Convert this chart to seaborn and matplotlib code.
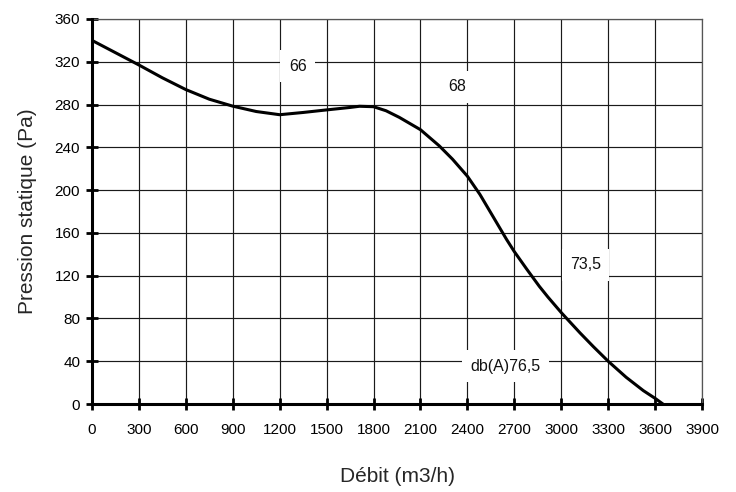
import matplotlib
matplotlib.use("Agg")
import matplotlib.pyplot as plt
import seaborn as sns
import pandas as pd

# Data
debit = [0, 150, 300, 450, 600, 750, 900, 1050, 1200, 1350, 1500, 1650, 1710, 1800,
         1880, 1965, 2100, 2220, 2305, 2400, 2480, 2565, 2650, 2700, 2780, 2860, 2915,
         3000, 3120, 3205, 3300, 3415, 3525, 3600, 3650]
pression = [340, 328.5, 317, 305, 294, 285, 278.5, 273.5, 270.5, 272.6, 275, 277.3, 278.4, 278,
            274.2, 268, 256.5, 241.4, 228.9, 213, 196, 175, 154, 142.5, 126, 110, 100,
            85.5, 66.5, 53.7, 40, 25, 12.5, 5.3, 0]

label_texts = ["66", "68", "73,5", "db(A)76,5"]
label_x = [1315, 2336, 3156, 2645]
label_y = [316, 296.5, 130, 35.5]

x_ticks = list(range(0, 3901, 300))
y_ticks = list(range(0, 361, 40))

sns.set_style("white")
plt.rcParams['font.family'] = ['Liberation Sans', 'DejaVu Sans']

fig = plt.figure(figsize=(7.36, 4.92), dpi=100)
ax = fig.add_axes([92/736, 1-404/492, 610/736, 385/492])

df = pd.DataFrame({"Débit": debit, "Pression": pression})

ax.set_xlim(0, 3900)
ax.set_ylim(0, 360)
ax.set_xticks(x_ticks)
ax.set_yticks(y_ticks)
ax.grid(True, color="#1a1a1a", linewidth=0.85)
ax.set_axisbelow(True)

for t, x, y in zip(label_texts, label_x, label_y):
    ax.text(x, y, t, ha="center", va="center", fontsize=11.5, color="#111111",
            bbox=dict(facecolor="white", edgecolor="none", pad=6), zorder=3)

sns.lineplot(data=df, x="Débit", y="Pression", ax=ax, color="black",
             linewidth=2.2, sort=False, estimator=None, zorder=4)

for s in ["left", "bottom"]:
    ax.spines[s].set_linewidth(2.2)
    ax.spines[s].set_color("black")
    ax.spines[s].set_zorder(5)
for s in ["top", "right"]:
    ax.spines[s].set_linewidth(0.9)
    ax.spines[s].set_color("#555555")

ax.tick_params(axis="both", direction="inout", width=2, colors="black",
               labelsize=11, length=9)
ax.tick_params(axis="y", pad=4)
ax.tick_params(axis="x", pad=9)
ax.tick_params(left=True, bottom=True)

ax.set_xlabel("Débit (m3/h)", fontsize=15, labelpad=22)
ax.set_ylabel("Pression statique (Pa)", fontsize=15, labelpad=13)

fig.savefig("out.png", dpi=100)
